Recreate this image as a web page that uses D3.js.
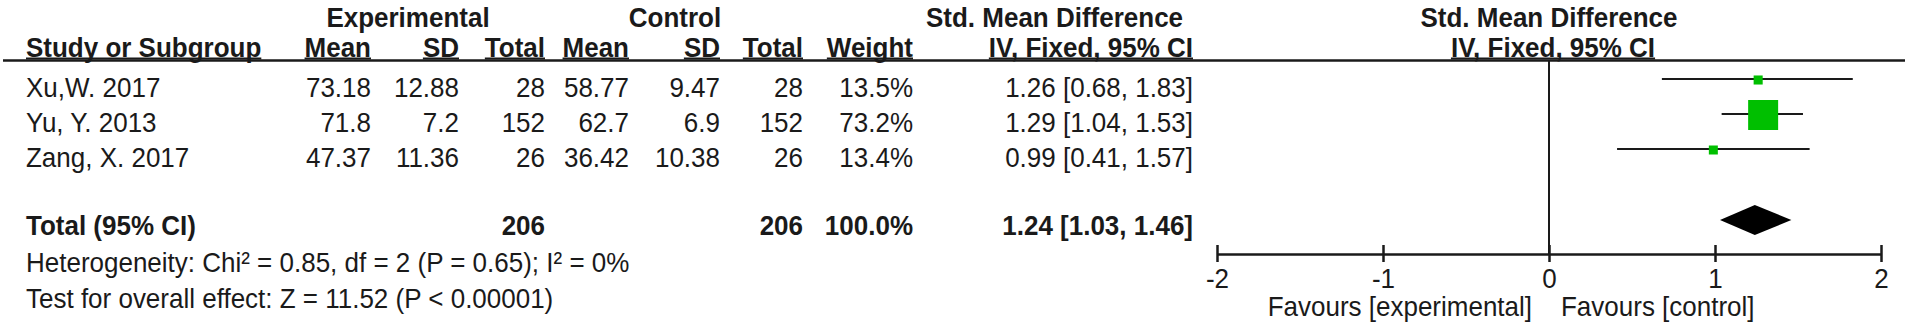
<!DOCTYPE html>
<html>
<head>
<meta charset="utf-8">
<script src="https://cdn.jsdelivr.net/npm/d3@7"></script>
<style>
  html, body { margin: 0; padding: 0; background: #fff; }
  svg text { font-family: "Liberation Sans", Arial, sans-serif; font-size: 26px; fill: #1a1a1a; }
  .bold { font-weight: bold; }
</style>
</head>
<body>
<svg id="forest"></svg>
<script>
// data
const studies = ['Xu,W. 2017', 'Yu, Y. 2013', 'Zang, X. 2017'];
const expMean = ['73.18', '71.8', '47.37'];
const expSD = ['12.88', '7.2', '11.36'];
const expTotal = [28, 152, 26];
const ctlMean = ['58.77', '62.7', '36.42'];
const ctlSD = ['9.47', '6.9', '10.38'];
const ctlTotal = [28, 152, 26];
const weights = [13.5, 73.2, 13.4];
const smd = [1.26, 1.29, 0.99];
const ciLow = [0.68, 1.04, 0.41];
const ciHigh = [1.83, 1.53, 1.57];

const totalLabel = 'Total (95% CI)';
const totalExpN = 206;
const totalCtlN = 206;
const totalWeight = 100.0;
const totalSmd = 1.24;
const totalLow = 1.03;
const totalHigh = 1.46;

const heterogeneity = 'Heterogeneity: Chi² = 0.85, df = 2 (P = 0.65); I² = 0%';
const overallEffect = 'Test for overall effect: Z = 11.52 (P < 0.00001)';
const axisTicks = [-2, -1, 0, 1, 2];
const favourLeft = 'Favours [experimental]';
const favourRight = 'Favours [control]';

// dimensions
const width = 1908;
const height = 331;

const svg = d3.select('#forest')
    .attr('width', width)
    .attr('height', height);

// column right edges
const colX = [371, 459, 545, 629, 720, 803, 913, 1193];
const labelX = 26;
// text in the original is slightly taller than plain Arial
const stretch = 1.08;

const rowY = d3.scalePoint().domain(d3.range(studies.length)).range([97, 167]);
const totalY = 235;
const hetY = 272;
const testY = 308;

const x = d3.scaleLinear().domain([-2, 2]).range([1217, 1881]);
const boxSize = d3.scaleSqrt().domain([13.4, 73.2]).range([9, 30]);
const green = '#00bf00';
const ink = '#1a1a1a';

const fmtCI = (m, l, h) => `${m.toFixed(2)} [${l.toFixed(2)}, ${h.toFixed(2)}]`;

function addText(txt, xx, yy, anchor, bold) {
    const t = svg.append('text')
        .attr('transform', `translate(${xx},${yy}) scale(1,${stretch})`)
        .attr('text-anchor', anchor || 'start')
        .classed('bold', !!bold)
        .text(txt);
    t.datum({ xx: xx });
    return t;
}

function underline(node, yy) {
    const b = node.node().getBBox();
    const x0 = node.datum().xx + b.x;
    svg.append('line')
        .attr('x1', x0).attr('x2', x0 + b.width)
        .attr('y1', yy).attr('y2', yy)
        .attr('stroke', ink)
        .attr('stroke-width', 2);
}

// header row 1
addText('Experimental', 408, 27, 'middle', true);
addText('Control', 675, 27, 'middle', true);
addText('Std. Mean Difference', 926, 27, 'start', true);
addText('Std. Mean Difference', x(0), 27, 'middle', true);

// header row 2 (underlined)
const h2 = 57;
const headers = ['Mean', 'SD', 'Total', 'Mean', 'SD', 'Total', 'Weight', 'IV, Fixed, 95% CI'];
underline(addText('Study or Subgroup', labelX, h2, 'start', true), h2 + 1.5);
headers.forEach((h, i) => underline(addText(h, colX[i], h2, 'end', true), h2 + 1.5));
underline(addText('IV, Fixed, 95% CI', x(0) + 4, h2, 'middle', true), h2 + 1.5);

// header rule
svg.append('line')
    .attr('x1', 3).attr('x2', 1905)
    .attr('y1', 60.5).attr('y2', 60.5)
    .attr('stroke', ink)
    .attr('stroke-width', 2.5);

// study rows
studies.forEach((s, i) => {
    const yy = rowY(i);
    addText(s, labelX, yy);
    const vals = [expMean[i], expSD[i], expTotal[i], ctlMean[i], ctlSD[i], ctlTotal[i],
        weights[i].toFixed(1) + '%', fmtCI(smd[i], ciLow[i], ciHigh[i])];
    vals.forEach((v, j) => addText(v, colX[j], yy, 'end'));
});

// total row
addText(totalLabel, labelX, totalY, 'start', true);
addText(totalExpN, colX[2], totalY, 'end', true);
addText(totalCtlN, colX[5], totalY, 'end', true);
addText(totalWeight.toFixed(1) + '%', colX[6], totalY, 'end', true);
addText(fmtCI(totalSmd, totalLow, totalHigh), colX[7], totalY, 'end', true);

addText(heterogeneity, labelX, hetY);
addText(overallEffect, labelX, testY);

// forest plot
const axisY = 254;
const markOffset = 18;

// zero line
svg.append('line')
    .attr('x1', x(0)).attr('x2', x(0))
    .attr('y1', 60).attr('y2', axisY)
    .attr('stroke', ink)
    .attr('stroke-width', 2);

const marks = svg.append('g');
marks.selectAll('line.ci')
    .data(studies)
    .enter()
    .append('line')
    .attr('class', 'ci')
    .attr('x1', (d, i) => x(ciLow[i]))
    .attr('x2', (d, i) => x(ciHigh[i]))
    .attr('y1', (d, i) => rowY(i) - markOffset)
    .attr('y2', (d, i) => rowY(i) - markOffset)
    .attr('stroke', ink)
    .attr('stroke-width', 2);

marks.selectAll('rect.box')
    .data(studies)
    .enter()
    .append('rect')
    .attr('class', 'box')
    .attr('x', (d, i) => x(smd[i]) - boxSize(weights[i]) / 2)
    .attr('y', (d, i) => rowY(i) - markOffset - boxSize(weights[i]) / 2 + 1)
    .attr('width', (d, i) => boxSize(weights[i]))
    .attr('height', (d, i) => boxSize(weights[i]))
    .attr('fill', green);

// diamond
const dy = totalY - 15;
svg.append('path')
    .attr('d', `M${x(totalLow)},${dy} L${x(totalSmd)},${dy - 15} L${x(totalHigh)},${dy} L${x(totalSmd)},${dy + 15} Z`)
    .attr('fill', '#000');

// axis
const xAxis = svg.append('g')
    .attr('transform', `translate(0, ${axisY})`)
    .call(d3.axisBottom(x).tickValues(axisTicks).tickSizeOuter(0).tickFormat(d => String(d)));

xAxis.select('.domain')
    .attr('stroke', ink)
    .attr('stroke-width', 2.5);
xAxis.selectAll('.tick line')
    .attr('y1', -9)
    .attr('y2', 8)
    .attr('stroke', ink)
    .attr('stroke-width', 2.5);
xAxis.selectAll('.tick text')
    .attr('y', null)
    .attr('dy', null)
    .attr('transform', `translate(0,34) scale(1,${stretch})`)
    .attr('font-size', null)
    .attr('font-family', null)
    .attr('fill', ink);
xAxis.attr('font-size', null).attr('font-family', null);

addText(favourLeft, x(0) - 17, 316, 'end');
addText(favourRight, x(0) + 12, 316, 'start');
</script>
</body>
</html>
